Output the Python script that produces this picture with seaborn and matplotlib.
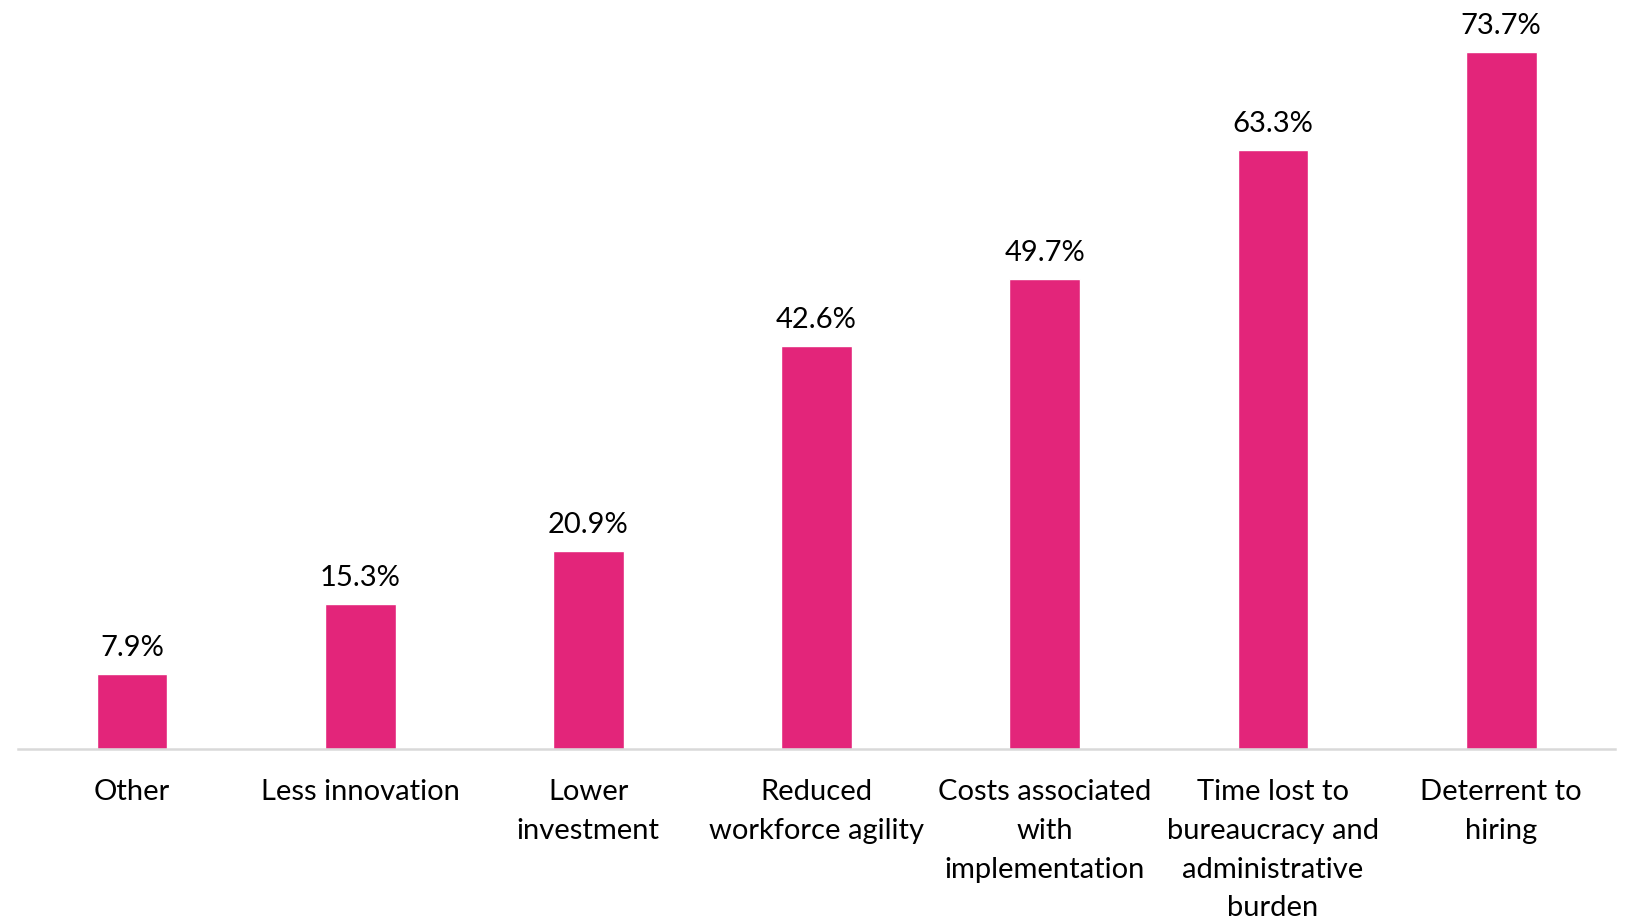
import matplotlib
matplotlib.use("Agg")
import matplotlib.pyplot as plt
import seaborn as sns
import pandas as pd

# Survey results: perceived impacts, share of respondents (%)
categories = [
    "Other",
    "Less innovation",
    "Lower investment",
    "Reduced workforce agility",
    "Costs associated with implementation",
    "Time lost to bureaucracy and administrative burden",
    "Deterrent to hiring",
]
values = [7.9, 15.3, 20.9, 42.6, 49.7, 63.3, 73.7]
tick_labels = [
    "Other",
    "Less innovation",
    "Lower\ninvestment",
    "Reduced\nworkforce agility",
    "Costs associated\nwith\nimplementation",
    "Time lost to\nbureaucracy and\nadministrative\nburden",
    "Deterrent to\nhiring",
]

sns.set_theme(style="white")
plt.rcParams["font.family"] = ["Lato", "DejaVu Sans"]

df = pd.DataFrame({"category": categories, "value": values})

fig = plt.figure(figsize=(16.25, 9.2), dpi=100)
ax = fig.add_axes([0.011, 0.185, 0.983, 0.815])

sns.barplot(data=df, x="category", y="value", color="#E3257A",
            saturation=1, width=0.31, ax=ax)

ax.set_xlim(-0.5, len(categories) - 0.5)
ax.set_ylim(0, 79.3)

for bar, v in zip(ax.patches, values):
    ax.annotate(f"{v:.1f}%", (bar.get_x() + bar.get_width() / 2, bar.get_height()),
                xytext=(0, 10), textcoords="offset points",
                ha="center", va="bottom", fontsize=21, color="#000000")

ax.set_xticks(range(len(categories)))
ax.set_xticklabels(tick_labels, fontsize=21, color="#000000", linespacing=1.61)
ax.tick_params(axis="x", length=0, pad=21)
ax.set_yticks([])
ax.set_xlabel("")
ax.set_ylabel("")

for side in ["top", "right", "left"]:
    ax.spines[side].set_visible(False)
ax.spines["bottom"].set_color("#D9D9D9")
ax.spines["bottom"].set_linewidth(1.8)

fig.savefig("out.png", dpi=100, facecolor="white")
